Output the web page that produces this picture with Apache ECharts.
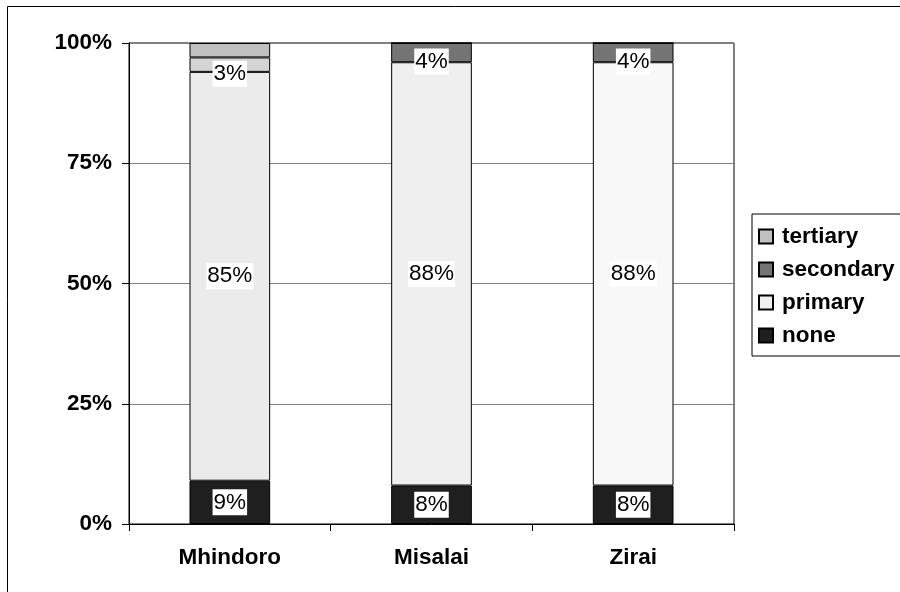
<!DOCTYPE html>
<html>
<head>
<meta charset="utf-8">
<script src="https://cdn.jsdelivr.net/npm/echarts@6/dist/echarts.min.js"></script>
<style>
html,body{margin:0;padding:0;background:#fff;}
#chart{width:900px;height:592px;}
</style>
</head>
<body>
<div id="chart"></div>
<script>
// ---- data ----
const categories = ['Mhindoro', 'Misalai', 'Zirai'];
const none = [9, 8, 8];
const primary = [85, 88, 88];
const secondary = [3, 4, 4];
const tertiary = [3, 0, 0];
const yTicks = [0, 25, 50, 75, 100];
const legendOrder = ['tertiary', 'secondary', 'primary', 'none'];

// ---- styles ----
const FONT = 'Arial, "Liberation Sans", sans-serif';
const seriesColors = { none: '#1f1f1f', primary: '#efefef', secondary: '#747474', tertiary: '#c0c0c0' };
const pointColors = { 'secondary|Mhindoro': '#d4d4d4', 'primary|Mhindoro': '#ebebeb', 'primary|Zirai': '#f8f8f8' };
const showLabel = { none: true, primary: true, secondary: true, tertiary: false };
const labelOffset = { none: [0, 0], primary: [0, 0], secondary: [0, 9], tertiary: [0, 9] };

function buildSeries(name, values) {
  return {
    name: name,
    type: 'bar',
    stack: 'total',
    barWidth: '40%',
    itemStyle: { color: seriesColors[name], borderColor: '#000', borderWidth: 1 },
    label: {
      show: showLabel[name],
      position: 'inside',
      offset: labelOffset[name],
      formatter: '{c}%',
      color: '#000',
      fontFamily: FONT,
      fontSize: 22.5,
      backgroundColor: '#fff',
      padding: [2, 1, 1, 1]
    },
    data: values.map((v, i) => {
      const item = { value: v };
      const key = name + '|' + categories[i];
      if (pointColors[key]) item.itemStyle = { color: pointColors[key] };
      if (v === 0) item.label = { show: false };
      return item;
    })
  };
}

const chart = echarts.init(document.getElementById('chart'), null, { renderer: 'canvas' });
chart.setOption({
  animation: false,
  backgroundColor: '#fff',
  textStyle: { fontFamily: FONT },
  graphic: [{
    type: 'rect', silent: true, z: -1,
    shape: { x: 7.5, y: 6.5, width: 1000, height: 1000 },
    style: { fill: 'none', stroke: '#000', lineWidth: 1 }
  }],
  grid: { left: 129, right: 166, top: 43, bottom: 68, show: true, borderColor: '#000', borderWidth: 1, backgroundColor: 'transparent' },
  legend: {
    orient: 'vertical',
    left: 752, top: 214,
    data: legendOrder,
    itemWidth: 14, itemHeight: 14, itemGap: 10,
    padding: [11, 20, 9, 6],
    borderColor: '#000', borderWidth: 1,
    textStyle: { fontFamily: FONT, fontSize: 22.5, fontWeight: 'bold', color: '#000', padding: [0, 0, 0, 4] },
    icon: 'rect'
  },
  xAxis: {
    type: 'category',
    data: categories,
    axisLine: { lineStyle: { color: '#000', width: 1 } },
    axisTick: { show: true, length: 7, inside: false, lineStyle: { color: '#000' } },
    axisLabel: { margin: 22, fontFamily: FONT, fontSize: 22.5, fontWeight: 'bold', color: '#000' }
  },
  yAxis: {
    type: 'value',
    min: yTicks[0], max: yTicks[yTicks.length - 1], interval: yTicks[1] - yTicks[0],
    axisLine: { show: true, lineStyle: { color: '#000', width: 1 } },
    axisTick: { show: true, length: 7, lineStyle: { color: '#000' } },
    splitLine: { show: true, lineStyle: { color: '#808080', width: 1 } },
    axisLabel: { margin: 17, fontFamily: FONT, fontSize: 22.5, fontWeight: 'bold', color: '#000', formatter: '{value}%' }
  },
  series: [
    buildSeries('none', none),
    buildSeries('primary', primary),
    buildSeries('secondary', secondary),
    buildSeries('tertiary', tertiary)
  ]
});
</script>
</body>
</html>
